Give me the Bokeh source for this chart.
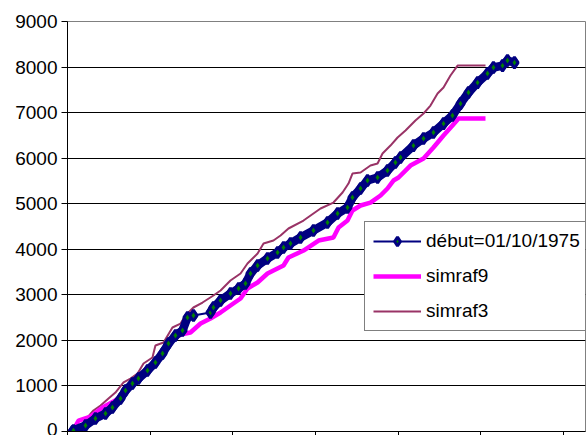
from bokeh.plotting import figure
from bokeh.models import Range1d, FixedTicker, Legend, LegendItem
from bokeh.embed import file_html
from bokeh.resources import INLINE

# ---- data (x: time units, y: cumulative value) ----
debut_x = [30, 36, 109, 169, 230, 272, 321, 351, 393, 429, 484, 532, 575, 611, 653, 696, 726, 762,
           865, 883, 926, 986, 1035, 1077, 1107, 1150, 1210, 1271, 1307, 1349, 1410, 1488, 1573, 1634,
           1694, 1724, 1773, 1815, 1876, 1936, 1984, 2015, 2093, 2154, 2214, 2275, 2329, 2378, 2426,
           2481, 2541, 2577, 2632, 2662, 2704]
debut_y = [0, 22, 132, 285, 395, 527, 724, 900, 1054, 1163, 1339, 1515, 1712, 1932, 2107, 2217, 2502, 2546,
           2612, 2722, 2875, 3029, 3139, 3248, 3468, 3644, 3797, 3929, 4039, 4126, 4258, 4412, 4587, 4785,
           4917, 5136, 5334, 5509, 5575, 5729, 5904, 6014, 6277, 6431, 6563, 6760, 6936, 7199, 7441,
           7660, 7858, 7990, 8033, 8143, 8099]

simraf9_x = [30, 67, 139, 212, 278, 333, 381, 442, 490, 545, 593, 635, 684, 744, 805, 865, 926, 986,
             1047, 1089, 1150, 1210, 1246, 1307, 1337, 1428, 1519, 1609, 1640, 1694, 1724, 1773, 1833,
             1894, 1936, 1972, 2003, 2075, 2154, 2214, 2275, 2329, 2366, 2529]
simraf9_y = [0, 241, 329, 527, 658, 790, 988, 1163, 1317, 1558, 1778, 1997, 2129, 2173, 2370, 2480, 2612, 2766,
             2919, 3139, 3270, 3468, 3534, 3644, 3819, 3973, 4192, 4258, 4478, 4631, 4851, 4961, 5026,
             5180, 5334, 5509, 5575, 5838, 5992, 6233, 6497, 6716, 6870, 6870]

simraf3_x = [30, 67, 121, 157, 200, 248, 290, 339, 381, 424, 460, 514, 532, 581, 635, 684, 714, 762, 817,
             883, 926, 986, 1047, 1089, 1150, 1186, 1246, 1289, 1337, 1428, 1488, 1531, 1609, 1664, 1700,
             1724, 1773, 1833, 1876, 1906, 1954, 1997, 2045, 2105, 2154, 2196, 2239, 2275, 2317, 2360, 2529]
simraf3_y = [66, 241, 307, 461, 571, 724, 856, 1076, 1163, 1273, 1493, 1624, 1888, 1953, 2283, 2370, 2546,
             2722, 2831, 2985, 3095, 3314, 3468, 3687, 3907, 4126, 4192, 4302, 4456, 4631, 4785, 4895, 5026,
             5246, 5443, 5663, 5685, 5838, 5882, 6102, 6277, 6453, 6607, 6826, 6980, 7155, 7419, 7551,
             7814, 8033, 8033]

y_ticks = [0, 1000, 2000, 3000, 4000, 5000, 6000, 7000, 8000, 9000]
x_ticks = [0, 500, 1000, 1500, 2000, 2500, 3000]
labels = ["début=01/10/1975", "simraf9", "simraf3"]

FONT = "Liberation Sans"
NAVY = "#000080"

p = figure(frame_width=518, frame_height=410, output_backend="svg", toolbar_location=None,
           x_range=Range1d(0, 3134), y_range=Range1d(0, 9000),
           min_border_left=67, min_border_top=21, min_border_right=1, min_border_bottom=0)
p.background_fill_color = "white"
p.border_fill_color = "white"
p.outline_line_color = "#808080"
p.outline_line_width = 1

# axes
p.yaxis.ticker = FixedTicker(ticks=y_ticks)
p.yaxis.major_label_text_font = FONT
p.yaxis.major_label_text_font_size = "19px"
p.yaxis.major_label_text_color = "black"
p.yaxis.major_tick_out = 6
p.yaxis.major_tick_in = 0
p.yaxis.minor_tick_out = 0
p.yaxis.minor_tick_in = 0
p.yaxis.major_label_standoff = 4
p.yaxis.axis_line_color = "black"
p.yaxis.major_tick_line_color = "black"

p.xaxis.ticker = FixedTicker(ticks=x_ticks)
p.xaxis.major_label_overrides = {t: "" for t in x_ticks}
p.xaxis.major_label_standoff = 0
p.xaxis.major_tick_out = 4
p.xaxis.major_tick_in = 0
p.xaxis.minor_tick_out = 0
p.xaxis.minor_tick_in = 0
p.xaxis.axis_line_color = "black"
p.xaxis.major_tick_line_color = "black"

p.xgrid.visible = False
p.ygrid.ticker = FixedTicker(ticks=y_ticks[1:-1])
p.ygrid.grid_line_color = "black"
p.ygrid.grid_line_width = 1

# series
r3 = p.line(simraf3_x, simraf3_y, line_color="#993366", line_width=2)
r9 = p.line(simraf9_x, simraf9_y, line_color="#FF00FF", line_width=4.5)
# dense-marker band of the observed series (the stretch without markers stays thin)
gap = 18
p.line(debut_x[:gap], debut_y[:gap], line_color=NAVY, line_width=8.5, line_join="round", line_cap="round")
p.line(debut_x[gap:], debut_y[gap:], line_color=NAVY, line_width=8.5, line_join="round", line_cap="round")
rd_line = p.line(debut_x, debut_y, line_color=NAVY, line_width=2)
rd_mark = p.scatter(debut_x, debut_y, marker="diamond", size=11, line_color=NAVY,
                    line_width=3, fill_color="#008000")

legend = Legend(items=[
    LegendItem(label=labels[0], renderers=[rd_line, rd_mark]),
    LegendItem(label=labels[1], renderers=[r9]),
    LegendItem(label=labels[2], renderers=[r3]),
], location=(297, 100))
legend.label_text_font = FONT
legend.label_text_font_size = "19px"
legend.label_text_color = "black"
legend.border_line_color = "black"
legend.border_line_width = 1
legend.background_fill_color = "white"
legend.background_fill_alpha = 1
legend.padding = 8
legend.margin = 0
legend.spacing = 13
legend.label_height = 22
legend.glyph_height = 22
legend.glyph_width = 48
legend.label_standoff = 5
p.add_layout(legend, "center")

open("out.html", "w").write(file_html(p, INLINE))
